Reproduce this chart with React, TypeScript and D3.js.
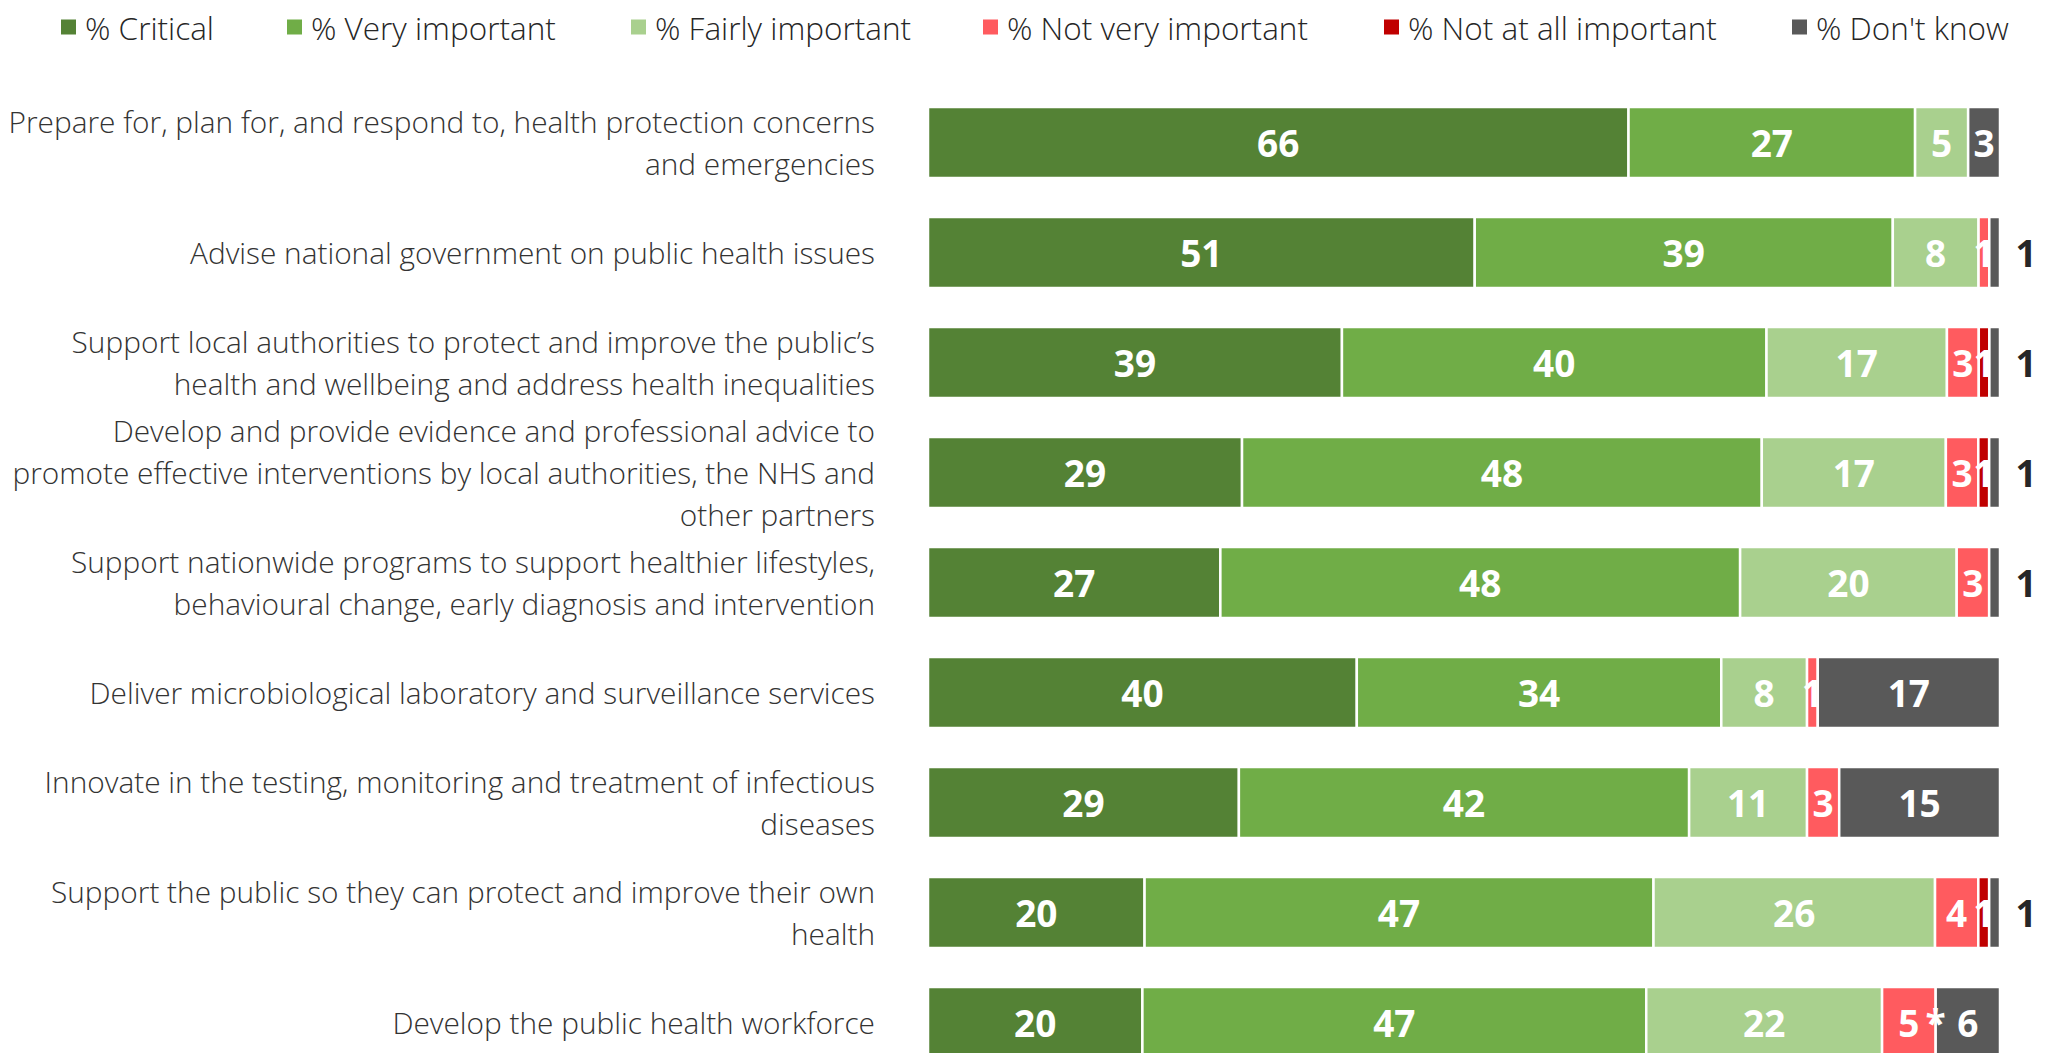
import React from "react";
import * as d3 from "d3";

const categories = [
  "Prepare for, plan for, and respond to, health protection concerns\nand emergencies",
  "Advise national government on public health issues",
  "Support local authorities to protect and improve the public’s\nhealth and wellbeing and address health inequalities",
  "Develop and provide evidence and professional advice to\npromote effective interventions by local authorities, the NHS and\nother partners",
  "Support nationwide programs to support healthier lifestyles,\nbehavioural change, early diagnosis and intervention",
  "Deliver microbiological laboratory and surveillance services",
  "Innovate in the testing, monitoring and treatment of infectious\ndiseases",
  "Support the public so they can protect and improve their own\nhealth",
  "Develop the public health workforce",
];

const seriesNames = [
  "% Critical",
  "% Very important",
  "% Fairly important",
  "% Not very important",
  "% Not at all important",
  "% Don't know",
];

const critical = [66, 51, 39, 29, 27, 40, 29, 20, 20];
const veryImportant = [27, 39, 40, 48, 48, 34, 42, 47, 47];
const fairlyImportant = [5, 8, 17, 17, 20, 8, 11, 26, 22];
const notVeryImportant = [0, 1, 3, 3, 3, 1, 3, 4, 5];
const notAtAllImportant = [0, 0, 1, 1, 0, 0, 0, 1, 0];
const dontKnow = [3, 1, 1, 1, 1, 17, 15, 1, 6];
// "*" = less than 0.5%
const notAtAllLabels = ["", "", "1", "1", "", "", "", "1", "*"];

const colors = ["#548235", "#70AD47", "#A9D08E", "#FF5B5F", "#C00000", "#595959"];

const W = 2047;
const H = 1053;
const FONT_LIGHT = "'Open Sans', 'Noto Sans', sans-serif";
const FONT_BOLD = "'Open Sans', 'Noto Sans', sans-serif";

export default function App() {
  const keys = ["c", "v", "f", "n", "a", "d"];
  const table = categories.map((cat, i) => ({
    cat,
    c: critical[i],
    v: veryImportant[i],
    f: fairlyImportant[i],
    n: notVeryImportant[i],
    a: notAtAllImportant[i],
    d: dontKnow[i],
  }));
  const stacked = d3.stack<any>().keys(keys).offset(d3.stackOffsetExpand)(table);

  const x = d3.scaleLinear().domain([0, 1]).range([928, 2000]);
  const y = d3
    .scaleBand<string>()
    .domain(categories)
    .range([107, 1058])
    .paddingInner(39 / 110)
    .paddingOuter(0)
    .align(0);

  const legendX = [61, 287, 631, 983, 1384, 1792];

  return (
    <svg
      width={W}
      height={H}
      style={{ position: "absolute", left: 0, top: 0, background: "#fff" }}
    >
      {/* legend */}
      {seriesNames.map((name, i) => (
        <g key={name} transform={`translate(${legendX[i]},27)`}>
          <rect x={0} y={-7.5} width={15} height={15} fill={colors[i]} />
          <text
            x={24}
            y={0}
            dominantBaseline="central"
            fontFamily={FONT_LIGHT}
            fontWeight={300}
            fontSize={31.5}
            fill="#262626"
          >
            {name}
          </text>
        </g>
      ))}

      {/* category labels */}
      {categories.map((cat) => {
        const lines = cat.split("\n");
        const cy = (y(cat) as number) + y.bandwidth() / 2;
        const lh = 42;
        return (
          <text
            key={cat}
            textAnchor="end"
            fontFamily={FONT_LIGHT}
            fontWeight={300}
            fontSize={29.8}
            fill="#333"
          >
            {lines.map((ln, j) => (
              <tspan
                key={j}
                x={875}
                y={cy + (j - (lines.length - 1) / 2) * lh}
                dominantBaseline="central"
              >
                {ln}
              </tspan>
            ))}
          </text>
        );
      })}

      {/* bars */}
      {stacked.map((s, si) => (
        <g key={s.key} fill={colors[si]}>
          {s.map((d, i) => {
            const w = x(d[1]) - x(d[0]);
            if (w <= 0) return null;
            return (
              <rect
                key={i}
                x={x(d[0])}
                y={y(categories[i])}
                width={w}
                height={y.bandwidth()}
                stroke="#fff"
                strokeWidth={2.5}
              />
            );
          })}
        </g>
      ))}

      {/* value labels */}
      {stacked.map((s, si) => (
        <g key={"l" + s.key}>
          {s.map((d, i) => {
            const raw = (table[i] as any)[s.key] as number;
            let label = raw > 0 ? String(raw) : "";
            if (s.key === "a") label = notAtAllLabels[i];
            if (!label) return null;
            const cy = (y(categories[i]) as number) + y.bandwidth() / 2;
            const outside = s.key === "d" && raw <= 1;
            const cx = outside ? x(1) + 26 : (x(d[0]) + x(d[1])) / 2;
            return (
              <text
                key={i}
                x={cx}
                y={cy}
                textAnchor="middle"
                dominantBaseline="central"
                fontFamily={FONT_BOLD}
                fontWeight={700}
                fontSize={37}
                fill={outside ? "#262626" : "#fff"}
              >
                {label}
              </text>
            );
          })}
        </g>
      ))}
    </svg>
  );
}
